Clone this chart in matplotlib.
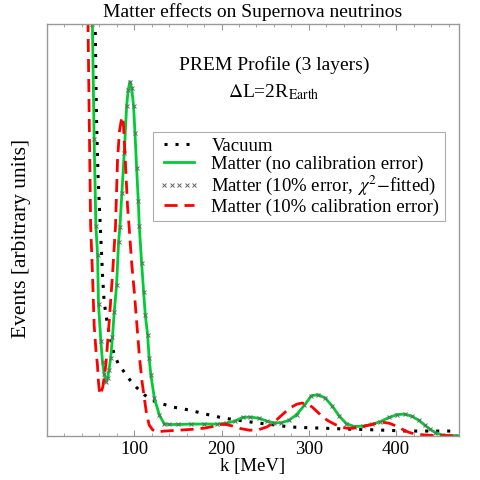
import matplotlib
matplotlib.use("Agg")
import matplotlib.pyplot as plt
from matplotlib.ticker import MultipleLocator

plt.rcParams['font.family'] = ['Liberation Serif', 'DejaVu Serif']
plt.rcParams['mathtext.fontset'] = 'stix'

# ---- data (arbitrary y units, 0..100 = axes height) ----
vac_k = [54, 55.2, 56.7, 58.5, 61, 62.4, 63.6, 65.5, 69.3, 72.4, 77, 82, 88.5, 95, 102,
         111.5, 121, 132, 145, 163, 180, 201, 220, 240, 260, 278, 300, 316, 340, 374,
         400, 412, 440, 470]
vac_y = [120, 100, 77, 63, 51, 44.7, 39, 32.5, 27, 23.8, 19.7, 17.4, 15.5, 13.6, 11.9,
         10, 8.6, 7.8, 7.0, 6.3, 5.4, 4.4, 3.8, 3.2, 2.7, 2.2, 2.0, 1.9, 1.7, 1.5,
         1.3, 1.2, 1.2, 1.2]

green_k = [51, 52, 54, 56, 57.9, 59, 61.7, 63.6, 65.5, 67.4, 69.5, 71, 73, 75, 77, 79.7,
           82, 83.5, 85.8, 88.5, 91.2, 93, 95, 97, 99.2, 100.8, 102.7, 104.6, 105.7,
           108.4, 110.7, 112.6, 115.3, 117, 119, 123, 128.7, 134.5, 140, 150, 165, 180,
           195, 205, 215, 224, 233, 243, 252, 260, 268, 277, 286, 295, 303, 311, 319,
           327, 335, 343, 352, 362, 372, 382, 392, 401, 410, 418, 426, 433, 439, 445,
           452, 460, 470]
green_y = [115, 100, 72, 51, 44, 32, 23, 18, 15, 13.1, 14, 16, 19, 24, 30, 36.6,
           47, 50.7, 59, 68.7, 80, 84, 86, 84.5, 80, 73.5, 65, 57, 51,
           42, 35, 29.4, 24.5, 19, 14.8, 9.2, 5.1, 2.9, 2.8, 2.8, 2.9, 2.9,
           2.9, 3.1, 3.6, 4.5, 4.6, 4.3, 3.6, 3.2, 3.2, 3.8, 5.2, 7.5, 9.8, 10.0, 9.2,
           7.2, 4.8, 3.0, 2.3, 2.4, 2.8, 3.5, 4.5, 5.2, 5.3, 4.8, 3.8, 2.6, 1.6, 0.8,
           0.3, 0.1, 0.1]

red_k = [46, 47, 48.5, 50, 52, 54, 56, 57.8, 59, 60.5, 62, 64, 67.4, 71, 75, 78.5,
         80.8, 83, 85.8, 87.5, 89.3, 92.3, 94, 97, 100, 103, 106, 109, 111.5, 114, 117,
         121, 125, 135, 150, 165, 180, 190, 198, 205, 213, 222, 232, 242, 252, 260,
         267, 274, 280, 286, 292, 298, 304, 310, 316, 322, 330, 337, 343, 350, 358,
         366, 374, 380, 386, 392, 398, 404, 410, 416, 422, 430, 440, 450, 460, 470]
red_y = [115, 100, 75, 51, 40, 27, 21, 17.2, 13, 10, 10.5, 12, 17.2, 27, 39, 51,
         67, 74, 77.5, 76, 68.7, 55.6, 51, 42, 35, 27, 19, 13, 9.2, 5.5, 2.7,
         1.5, 1, 1.2, 1.4, 1.6, 1.9, 2.3, 2.8, 2.8, 2.4, 1.8, 1.4, 1.5, 2.2, 3.3,
         4.7, 6.0, 7.0, 7.7, 8.0, 7.8, 7.0, 5.8, 4.6, 3.7, 2.8, 2.2, 1.9, 1.9, 2.1,
         2.5, 2.9, 3.2, 3.3, 3.1, 2.6, 2.0, 1.3, 0.8, 0.5, 0.3, 0.15, 0.1, 0.05, 0.05]

x_ticks = [100, 200, 300, 400]
labels = ["Vacuum", "Matter (no calibration error)",
          r"Matter (10% error, $\,\chi^2$$-$fitted)", "Matter (10% calibration error)"]

fig = plt.figure(figsize=(4.8, 4.8), dpi=100)
ax = fig.add_axes([47/480, 44/480, 412/480, 412/480])

ax.plot(vac_k, vac_y, color='black', lw=2.2, linestyle=(0, (1, 2.6)), label=labels[0])
ax.plot(green_k, green_y, color='#00CC33', lw=2.0, label=labels[1])
ax.plot(green_k, green_y, linestyle='none', marker='x', color='#666666', ms=3, mew=0.7,
        label=labels[2])
ax.plot(red_k, red_y, color='#FF0000', lw=2.0, linestyle=(0, (4.7, 2.5)), label=labels[3])

ax.set_xlim(0, 472)
ax.set_ylim(0, 100)
ax.set_yticks([])
ax.set_xticks(x_ticks)
ax.xaxis.set_minor_locator(MultipleLocator(20))
ax.tick_params(axis='x', which='both', direction='in', top=True, bottom=True,
               colors='#999999', labelcolor='black', labelsize=13.5)
ax.tick_params(axis='x', which='major', length=4, width=0.8)
ax.tick_params(axis='x', which='minor', length=2, width=0.6)
for sp in ax.spines.values():
    sp.set_color('#999999')
    sp.set_linewidth(1.0)

ax.set_xlabel("k [MeV]", fontsize=13.5, labelpad=0)
ax.set_ylabel("Events [arbitrary units]", fontsize=15.5, labelpad=6)
ax.yaxis.set_label_coords(-0.04, 0.48)
ax.set_title("Matter effects on Supernova neutrinos", fontsize=14, pad=5)

ax.text(0.551, 0.90, "PREM Profile (3 layers)", transform=ax.transAxes,
        ha='center', va='center', fontsize=14)
ax.text(0.551, 0.835, r"$\Delta$L=2R$_{\mathrm{Earth}}$", transform=ax.transAxes,
        ha='center', va='center', fontsize=14)

leg = ax.legend(loc='upper right', bbox_to_anchor=(0.966, 0.738), fontsize=13.5,
                frameon=True, fancybox=False, handlelength=2.2, handletextpad=0.6,
                labelspacing=0.05, borderpad=0.3, borderaxespad=0, numpoints=5)
leg.get_frame().set_edgecolor('#999999')
leg.get_frame().set_linewidth(0.8)

fig.savefig("out.png", dpi=100)
